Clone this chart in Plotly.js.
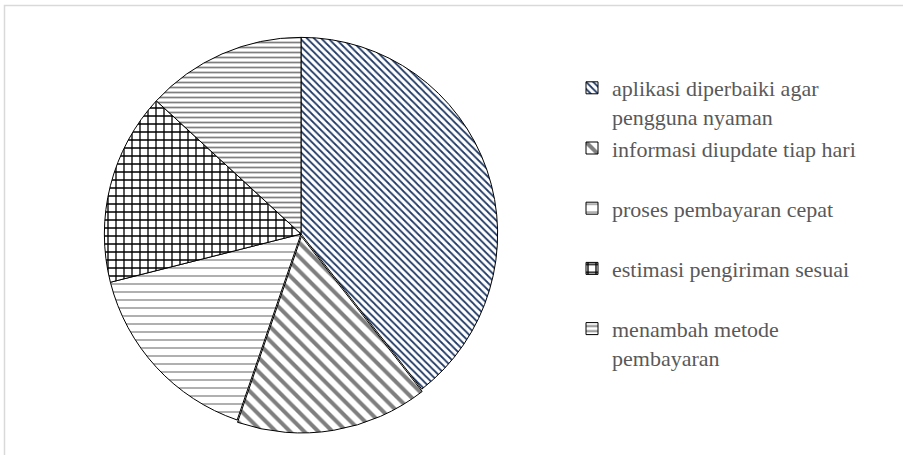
<!DOCTYPE html>
<html>
<head>
<meta charset="utf-8">
<script src="https://cdn.plot.ly/plotly-3.0.1.min.js"></script>
<style>
html,body{margin:0;padding:0;background:#fff;}
#chart{width:903px;height:455px;}
#chart .legendtext, #chart .legendtext tspan { font-family: "Liberation Serif", "Times New Roman", serif !important; }
</style>
</head>
<body>
<div id="chart"></div>
<script>
// Data
var categories = [
  "aplikasi diperbaiki agar<br>pengguna nyaman",
  "informasi diupdate tiap hari",
  "proses pembayaran cepat",
  "estimasi pengiriman sesuai",
  "menambah metode<br>pembayaran"
];
var values = [30, 12, 12, 12, 10];

// Styles (not data)
var patternShapes = ["\\", "\\", "-", "+", "-"];
var patternColors = ["#1f3864", "#7f7f7f", "#b0b0b0", "#000000", "#7f7f7f"];
var patternSizes = [5, 10, 8, 8, 5];
var patternSolidity = [0.35, 0.4, 0.25, 0.3, 0.35];
var pulls = [0, 0.012, 0, 0, 0];

// legend labels padded to two lines so the entries are evenly spaced
var legendLabels = categories.map(function (c) {
  return c.indexOf("<br>") >= 0 ? c : c + "<br>&nbsp;";
});

var trace = {
  type: "pie",
  labels: legendLabels,
  values: values,
  sort: false,
  direction: "clockwise",
  rotation: 0,
  pull: pulls,
  textinfo: "none",
  hoverinfo: "label+value+percent",
  domain: {x: [102 / 903, 500 / 903], y: [1 - 434 / 455, 1 - 34 / 455]},
  marker: {
    colors: ["#ffffff", "#ffffff", "#ffffff", "#ffffff", "#ffffff"],
    line: {color: "#000000", width: 1},
    pattern: {
      shape: patternShapes,
      fgcolor: patternColors,
      bgcolor: "#ffffff",
      size: patternSizes,
      solidity: patternSolidity,
      fillmode: "replace"
    }
  }
};

var layout = {
  width: 903,
  height: 455,
  margin: {l: 0, r: 0, t: 0, b: 0},
  paper_bgcolor: "#ffffff",
  font: {family: "Liberation Serif", color: "#595959"},
  showlegend: true,
  legend: {
    x: 572 / 903,
    xanchor: "left",
    y: 1 - 67 / 455,
    yanchor: "top",
    valign: "top",
    font: {family: "Liberation Serif", size: 22, color: "#595959"},
    bgcolor: "rgba(0,0,0,0)",
    borderwidth: 0,
    traceorder: "normal"
  },
  shapes: [{
    type: "rect", xref: "paper", yref: "paper",
    x0: 4.5 / 903, x1: 1.05, y0: -0.05, y1: 1 - 5.5 / 455,
    line: {color: "#d9d9d9", width: 1.5},
    fillcolor: "rgba(0,0,0,0)",
    layer: "below"
  }]
};

Plotly.newPlot("chart", [trace], layout, {displayModeBar: false, staticPlot: true});
</script>
</body>
</html>
